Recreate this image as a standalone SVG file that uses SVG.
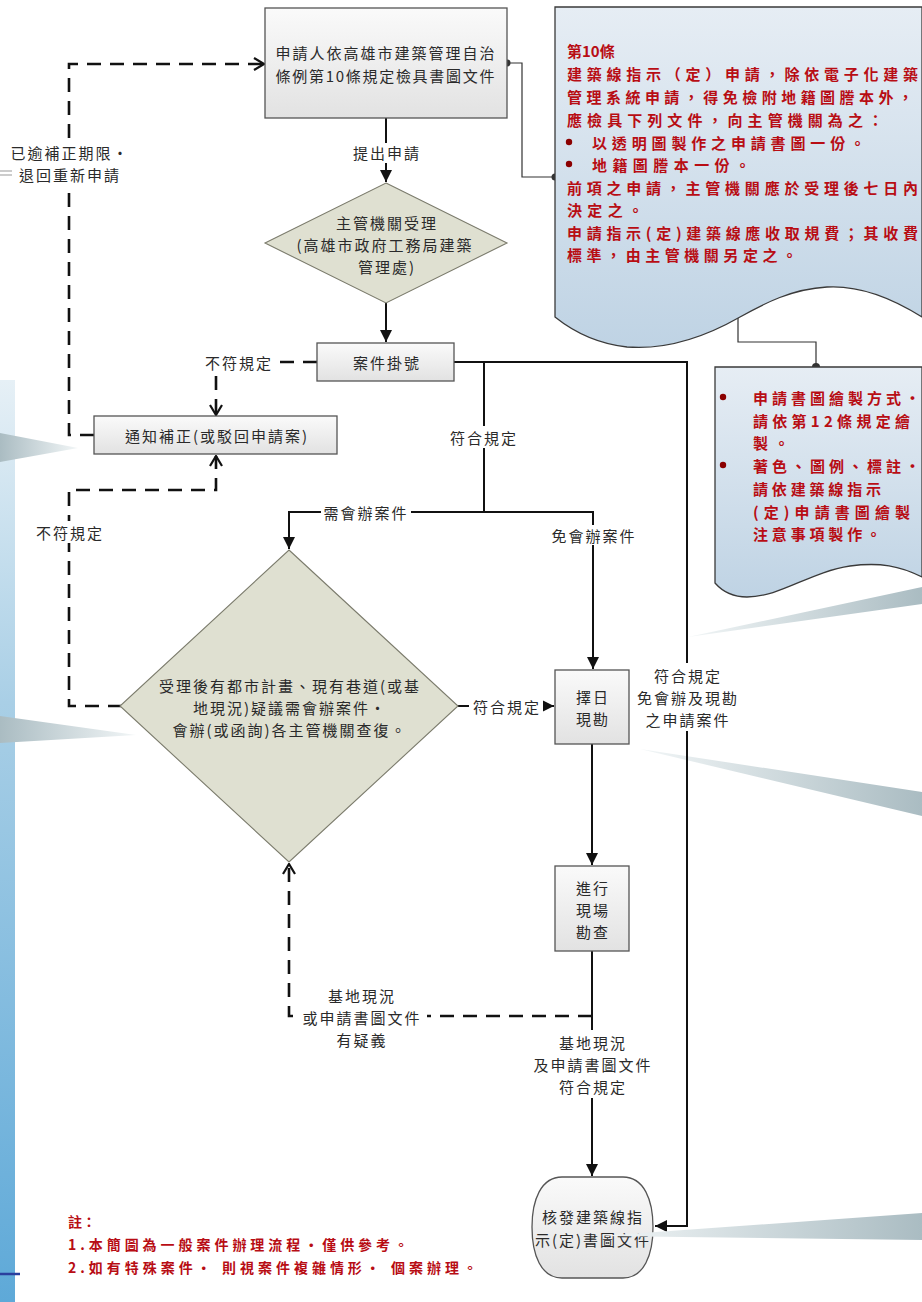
<svg xmlns="http://www.w3.org/2000/svg" width="922" height="1302" viewBox="0 0 922 1302">
<defs>
<linearGradient id="gBox" x1="0" y1="0" x2="0" y2="1"><stop offset="0" stop-color="#fafafa"/><stop offset="1" stop-color="#e2e2e2"/></linearGradient>
<linearGradient id="gNote" x1="0" y1="0" x2="0" y2="1"><stop offset="0" stop-color="#e6edf4"/><stop offset="1" stop-color="#bfd3e4"/></linearGradient>
<linearGradient id="gStrip" x1="0" y1="0" x2="0" y2="1"><stop offset="0" stop-color="#e6f0f6"/><stop offset="0.35" stop-color="#a9cfe6"/><stop offset="1" stop-color="#5ea9d8"/></linearGradient>
<linearGradient id="gWedgeR" x1="0" y1="0" x2="1" y2="0"><stop offset="0" stop-color="#f2f6f7"/><stop offset="1" stop-color="#aabcc2"/></linearGradient>
<linearGradient id="gWedgeL" x1="1" y1="0" x2="0" y2="0"><stop offset="0" stop-color="#f2f6f7"/><stop offset="1" stop-color="#aabcc2"/></linearGradient>
<marker id="arr" viewBox="0 0 12 12" refX="12" refY="6" markerWidth="12" markerHeight="12" markerUnits="userSpaceOnUse" orient="auto"><path d="M0,0 L12,6 L0,12 z" fill="#111"/></marker>
<marker id="oarr" viewBox="0 0 12 14" refX="11" refY="7" markerWidth="12" markerHeight="14" markerUnits="userSpaceOnUse" orient="auto"><path d="M1,1 L11,7 L1,13" fill="none" stroke="#111" stroke-width="2.2"/></marker>
</defs>
<style>
.box{fill:url(#gBox);stroke:#555;stroke-width:1.3}
.dia{fill:#dfe0d1;stroke:#7b7b6c;stroke-width:1.1}
.note{fill:url(#gNote);stroke:#3a3a3a;stroke-width:1.3}
.t{font-family:"Noto Sans CJK TC","Noto Sans CJK SC",sans-serif;font-size:15px;fill:#2a2a2a;text-anchor:middle;dominant-baseline:central;letter-spacing:2px}
.r{font-family:"Noto Sans CJK TC","Noto Sans CJK SC",sans-serif;font-weight:700;font-size:15px;fill:#b80d14;dominant-baseline:central}
.solid{fill:none;stroke:#111;stroke-width:2}
.dash{fill:none;stroke:#111;stroke-width:2.6;stroke-dasharray:14 9}
.thin{fill:none;stroke:#333;stroke-width:1.2}
.bg{fill:#fff}
.dot{fill:#333}
</style>
<rect width="922" height="1302" fill="#fff"/>
<g id="background">
<rect x="0" y="380" width="15" height="922" fill="url(#gStrip)"/>
<line x1="0" y1="171" x2="14" y2="171" stroke="#999" stroke-width="1"/>
<line x1="0" y1="175" x2="14" y2="175" stroke="#999" stroke-width="1"/>
<line x1="0" y1="1274" x2="20" y2="1274" stroke="#2b3f9e" stroke-width="2.5"/>
<polygon points="0,433 78,448 0,462" fill="url(#gWedgeL)"/>
<polygon points="0,716 136,735 0,743" fill="url(#gWedgeL)"/>
<polygon points="688,637 922,587 922,604" fill="url(#gWedgeR)"/>
<polygon points="640,749 922,792 922,816" fill="url(#gWedgeR)"/>
</g>
<g id="connectors">
<path class="thin" d="M507,63 H522 V177 H555"/>
<path class="thin" d="M738,317 V342 H816 V367"/>
<path class="solid" d="M386,118 V182" marker-end="url(#arr)"/>
<path class="solid" d="M386,303 V342" marker-end="url(#arr)"/>
<path class="solid" d="M454,362 H687 V1226 H655" marker-end="url(#arr)"/>
<path class="solid" d="M484,362 V512 H289 V549" marker-end="url(#arr)"/>
<path class="solid" d="M484,512 H593 V669" marker-end="url(#arr)"/>
<path class="solid" d="M458,706 H554" marker-end="url(#arr)"/>
<path class="solid" d="M592,744 V865" marker-end="url(#arr)"/>
<path class="solid" d="M592,951 V1176" marker-end="url(#arr)"/>
<path class="dash" d="M317,362 H216 V415" marker-end="url(#oarr)"/>
<path class="dash" d="M94,435 H69 V64 H264" marker-end="url(#oarr)"/>
<path class="dash" d="M122,706 H69 V490 H216 V456" marker-end="url(#oarr)"/>
<path class="dash" d="M592,1016 H289 V864" marker-end="url(#oarr)"/>
<rect class="bg" x="200" y="352" width="76" height="20"/>
<text class="t" x="239" y="362">不符規定</text>
<rect class="bg" x="12" y="141" width="116" height="45"/>
<text class="t" x="70" y="152">已逾補正期限·</text>
<text class="t" x="70" y="174">退回重新申請</text>
<rect class="bg" x="33" y="521" width="74" height="22"/>
<text class="t" x="70" y="532">不符規定</text>
<rect class="bg" x="352" y="143" width="70" height="20"/>
<text class="t" x="387" y="152">提出申請</text>
<rect class="bg" x="446" y="426" width="74" height="22"/>
<text class="t" x="484" y="437">符合規定</text>
<rect class="bg" x="321" y="502" width="90" height="20"/>
<text class="t" x="366" y="512">需會辦案件</text>
<rect class="bg" x="547" y="525" width="92" height="20"/>
<text class="t" x="594" y="535">免會辦案件</text>
<rect class="bg" x="469" y="696" width="74" height="20"/>
<text class="t" x="507" y="706">符合規定</text>
<rect class="bg" x="631" y="663" width="112" height="68"/>
<text class="t" x="688" y="675">符合規定</text>
<text class="t" x="688" y="697">免會辦及現勘</text>
<text class="t" x="688" y="719">之申請案件</text>
<rect class="bg" x="295" y="1006" width="132" height="21"/>
<text class="t" x="362" y="995">基地現況</text>
<text class="t" x="362" y="1017">或申請書圖文件</text>
<text class="t" x="362" y="1039">有疑義</text>
<rect class="bg" x="528" y="1030" width="128" height="68"/>
<text class="t" x="593" y="1042">基地現況</text>
<text class="t" x="593" y="1064">及申請書圖文件</text>
<text class="t" x="593" y="1086">符合規定</text>
<circle class="dot" cx="507" cy="63" r="3.5"/>
<circle class="dot" cx="555" cy="177" r="3.5"/>
<circle class="dot" cx="816" cy="367" r="4"/>
</g>
<g id="n-apply">
<rect class="box" x="265" y="8" width="242" height="110"/>
<text class="t" x="386" y="52" textLength="221" lengthAdjust="spacing">申請人依高雄市建築管理自治</text>
<text class="t" x="386" y="75" textLength="221" lengthAdjust="spacing">條例第10條規定檢具書圖文件</text>
</g>
<g id="n-accept">
<polygon class="dia" points="386,183 507,243 386,303 265,243"/>
<text class="t" x="387" y="222">主管機關受理</text>
<text class="t" x="385" y="244">(高雄市政府工務局建築</text>
<text class="t" x="387" y="266">管理處)</text>
</g>
<g id="n-register">
<rect class="box" x="317" y="343" width="137" height="38"/>
<text class="t" x="387" y="362">案件掛號</text>
</g>
<g id="n-notify">
<rect class="box" x="94" y="416" width="243" height="38"/>
<text class="t" x="217" y="435">通知補正(或駁回申請案)</text>
</g>
<g id="n-review">
<polygon class="dia" points="289,550 458,706 289,862 120,706"/>
<text class="t" x="290" y="685">受理後有都市計畫、現有巷道(或基</text>
<text class="t" x="290" y="707">地現況)疑議需會辦案件·</text>
<text class="t" x="290" y="729">會辦(或函詢)各主管機關查復。</text>
</g>
<g id="n-schedule">
<rect class="box" x="555" y="670" width="74" height="74"/>
<text class="t" x="593" y="696">擇日</text>
<text class="t" x="593" y="718">現勘</text>
</g>
<g id="n-inspect">
<rect class="box" x="555" y="866" width="74" height="85"/>
<text class="t" x="593" y="887">進行</text>
<text class="t" x="593" y="909">現場</text>
<text class="t" x="593" y="931">勘查</text>
</g>
<g id="n-issue">
<path class="box" d="M562,1177 H623 C644,1177 653,1200 653,1227 C653,1255 644,1278 623,1278 H562 C541,1278 532,1255 532,1227 C532,1200 541,1177 562,1177 Z"/>
<text class="t" x="593" y="1216">核發建築線指</text>
<text class="t" x="593" y="1239">示(定)書圖文件</text>
</g>
<g id="wedge-bottom">
<polygon points="600,1236 922,1213 922,1240" fill="url(#gWedgeR)"/>
</g>
<g id="note-art10">
<path class="note" d="M555,7 H922 V317 C895,300 862,285 827,287 C792,289 765,303 740,317 C705,337 665,350 627,347 C600,344 575,333 555,317 Z"/>
<text class="r" x="567" y="50">第10條</text>
<text class="r" x="567" y="73" textLength="351" lengthAdjust="spacing">建築線指示（定）申請，除依電子化建築</text>
<text class="r" x="567" y="96" textLength="346" lengthAdjust="spacing">管理系統申請，得免檢附地籍圖謄本外，</text>
<text class="r" x="567" y="119" textLength="316" lengthAdjust="spacing">應檢具下列文件，向主管機關為之：</text>
<circle cx="569" cy="142" r="3.2" fill="#8b0000"/>
<text class="r" x="592" y="142" textLength="273" lengthAdjust="spacing">以透明圖製作之申請書圖一份。</text>
<circle cx="569" cy="164" r="3.2" fill="#8b0000"/>
<text class="r" x="592" y="164" textLength="158" lengthAdjust="spacing">地籍圖謄本一份。</text>
<text class="r" x="567" y="187" textLength="351" lengthAdjust="spacing">前項之申請，主管機關應於受理後七日內</text>
<text class="r" x="567" y="209" textLength="76" lengthAdjust="spacing">決定之。</text>
<text class="r" x="567" y="232" textLength="351" lengthAdjust="spacing">申請指示(定)建築線應收取規費；其收費</text>
<text class="r" x="567" y="254" textLength="230" lengthAdjust="spacing">標準，由主管機關另定之。</text>
</g>
<g id="note-drawing">
<path class="note" d="M715,367 H922 V577 C900,566 880,562 850,566 C810,572 780,597 747,597 C733,597 722,591 715,583 Z"/>
<circle cx="723" cy="397" r="3.2" fill="#8b0000"/>
<text class="r" x="753" y="397" textLength="167" lengthAdjust="spacing">申請書圖繪製方式·</text>
<text class="r" x="753" y="420" textLength="157" lengthAdjust="spacing">請依第12條規定繪</text>
<text class="r" x="753" y="442" textLength="36" lengthAdjust="spacing">製。</text>
<circle cx="723" cy="465" r="3.2" fill="#8b0000"/>
<text class="r" x="753" y="465" textLength="167" lengthAdjust="spacing">著色、圖例、標註·</text>
<text class="r" x="753" y="488" textLength="128" lengthAdjust="spacing">請依建築線指示</text>
<text class="r" x="753" y="511" textLength="157" lengthAdjust="spacing">(定)申請書圖繪製</text>
<text class="r" x="753" y="533" textLength="128" lengthAdjust="spacing">注意事項製作。</text>
</g>
<g id="footnote">
<text class="r" x="68" y="1221" style="font-size:14px">註：</text>
<text class="r" x="68" y="1244" style="font-size:14px" textLength="340" lengthAdjust="spacing">1.本簡圖為一般案件辦理流程·僅供參考。</text>
<text class="r" x="68" y="1267" style="font-size:14px" textLength="409" lengthAdjust="spacing">2.如有特殊案件· 則視案件複雜情形· 個案辦理。</text>
</g>
</svg>
